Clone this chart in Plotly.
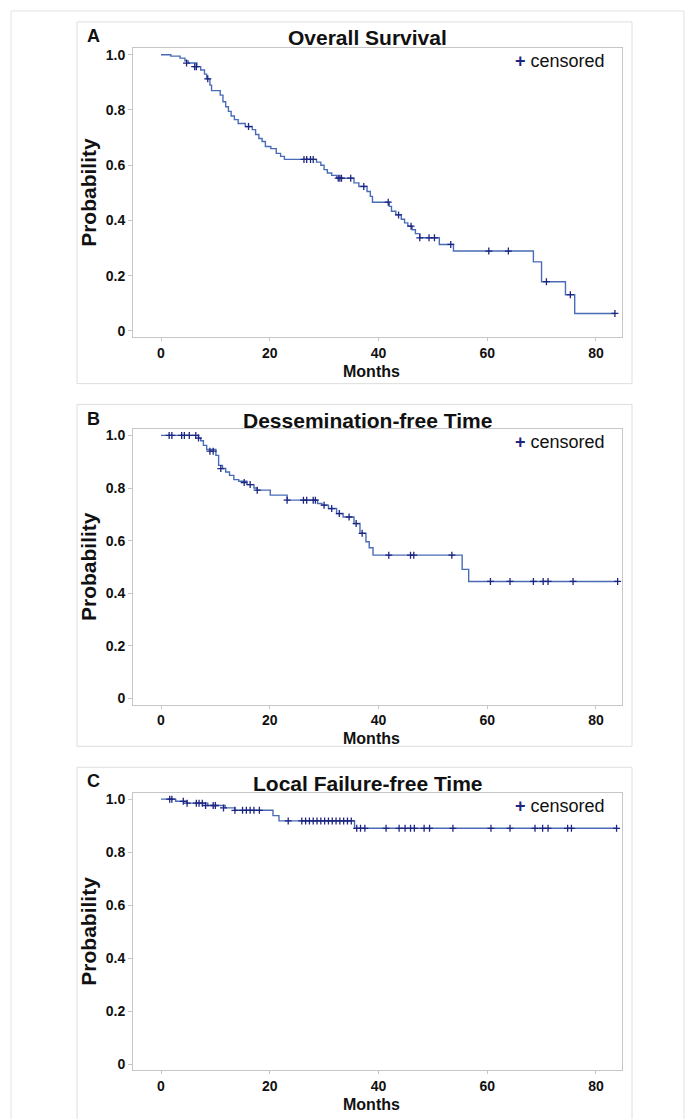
import plotly.graph_objects as go

W, H = 688, 1119

# ---------------- data ----------------
# Panel A: Overall Survival (step times, survival after step)
os_times = [0, 1.8, 3.5, 4.4, 5.0, 6.6, 7.3, 8.0, 8.4, 9.0, 9.3, 10.9, 11.4, 11.9, 12.4, 12.9,
            13.5, 14.2, 15.5, 16.8, 17.4, 18.0, 18.6, 19.2, 20.2, 21.2, 22.0, 22.7, 28.6, 29.4,
            30.0, 30.6, 31.4, 32.3, 35.5, 36.4, 37.9, 38.5, 38.9, 42.0, 42.4, 43.2, 44.2, 44.8,
            45.4, 46.2, 46.8, 47.6, 51.2, 53.8, 68.5, 70.0, 74.4, 76.1, 83.5]
os_surv = [1.0, 0.995, 0.988, 0.978, 0.97, 0.957, 0.945, 0.93, 0.913, 0.89, 0.87, 0.854, 0.83,
           0.812, 0.795, 0.778, 0.765, 0.751, 0.74, 0.729, 0.711, 0.697, 0.686, 0.668, 0.66,
           0.643, 0.632, 0.621, 0.611, 0.600, 0.584, 0.572, 0.563, 0.553, 0.536, 0.523, 0.505,
           0.487, 0.466, 0.451, 0.433, 0.42, 0.404, 0.391, 0.379, 0.366, 0.352, 0.337, 0.313,
           0.289, 0.25, 0.178, 0.131, 0.063, 0.063]
os_cens_t = [4.7, 6.2, 6.5, 8.6, 16.1, 26.3, 26.8, 27.5, 28.0, 32.6, 32.9, 33.2, 34.9, 37.3,
             41.8, 43.7, 46.0, 47.6, 49.3, 50.3, 53.3, 60.3, 63.9, 70.9, 75.3, 83.5]
os_cens_s = [0.97, 0.957, 0.957, 0.913, 0.74, 0.621, 0.621, 0.621, 0.621, 0.553, 0.553, 0.553,
             0.553, 0.523, 0.466, 0.42, 0.379, 0.337, 0.337, 0.337, 0.313, 0.289, 0.289, 0.178,
             0.131, 0.063]

# Panel B: Dessemination-free Time
df_times = [0, 6.9, 7.3, 7.8, 8.4, 10.1, 10.6, 11.3, 11.9, 12.6, 13.4, 14.3, 15.8, 17.1, 17.7,
            20.1, 23.2, 28.8, 29.6, 30.8, 32.3, 33.5, 35.5, 36.6, 37.7, 38.3, 39.0, 55.4, 56.6, 84.0]
df_surv = [1.0, 0.99, 0.98, 0.962, 0.947, 0.924, 0.886, 0.874, 0.861, 0.848, 0.832, 0.826,
           0.813, 0.80, 0.792, 0.773, 0.754, 0.741, 0.735, 0.722, 0.703, 0.69, 0.665, 0.628,
           0.596, 0.573, 0.545, 0.491, 0.445, 0.445]
df_cens_t = [1.5, 2.0, 3.8, 4.3, 5.2, 6.4, 6.9, 9.0, 9.6, 11.0, 15.3, 16.4, 17.7, 23.2, 26.2,
             26.8, 28.0, 28.4, 30.0, 31.4, 32.8, 34.6, 35.9, 37.0, 41.9, 45.9, 46.5, 53.5, 60.6,
             64.2, 68.5, 70.3, 71.2, 75.8, 84.0]
df_cens_s = [1.0, 1.0, 1.0, 1.0, 1.0, 1.0, 0.99, 0.94, 0.94, 0.874, 0.821, 0.813, 0.792, 0.754,
             0.754, 0.754, 0.754, 0.754, 0.735, 0.722, 0.703, 0.69, 0.665, 0.628, 0.545, 0.545,
             0.545, 0.545, 0.445, 0.445, 0.445, 0.445, 0.445, 0.445, 0.445]

# Panel C: Local Failure-free Time
lf_times = [0, 2.7, 4.8, 8.6, 11.8, 13.6, 20.6, 21.7, 35.6, 84.0]
lf_surv = [1.0, 0.992, 0.985, 0.976, 0.967, 0.958, 0.938, 0.918, 0.89, 0.89]
lf_cens_t = [1.6, 2.0, 4.1, 4.8, 6.5, 7.0, 7.6, 8.2, 9.6, 10.0, 11.5, 13.6, 15.0, 15.7, 16.4,
             17.1, 18.1, 23.4, 25.9, 26.6, 27.3, 28.0, 28.7, 29.4, 30.1, 30.8, 31.5, 32.2, 32.9,
             33.6, 34.3, 35.0, 36.0, 36.7, 37.5, 41.4, 43.8, 44.9, 45.9, 46.6, 48.4, 49.4, 53.7,
             60.7, 64.2, 68.8, 70.2, 71.2, 74.8, 75.5, 83.8]
lf_cens_s = [1.0, 1.0, 0.992, 0.985, 0.985, 0.985, 0.985, 0.976, 0.976, 0.976, 0.967, 0.958,
             0.958, 0.958, 0.958, 0.958, 0.958, 0.918, 0.918, 0.918, 0.918, 0.918, 0.918, 0.918,
             0.918, 0.918, 0.918, 0.918, 0.918, 0.918, 0.918, 0.918, 0.89, 0.89, 0.89, 0.89,
             0.89, 0.89, 0.89, 0.89, 0.89, 0.89, 0.89, 0.89, 0.89, 0.89, 0.89, 0.89, 0.89,
             0.89, 0.89]

panel_letters = ["A", "B", "C"]
panel_titles = ["Overall Survival", "Dessemination-free Time", "Local Failure-free Time"]
x_ticks = [0, 20, 40, 60, 80]
y_ticks = [0, 0.2, 0.4, 0.6, 0.8, 1.0]
y_ticktext = ["0", "0.2", "0.4", "0.6", "0.8", "1.0"]

# ---------------- layout geometry (pixels) ----------------
plot_x0, plot_x1 = 133, 622
plot_y = [(46.6, 336.4), (428.9, 705.1), (793.9, 1072.1)]   # top, bottom per panel
frame_y = [(20, 383), (404, 747), (768, 1130)]
frame_x0, frame_x1 = 77, 632

LINE = "#4a6cb8"
CENS = "#1c2580"
AXC = "#c6c6c6"
FONT = "Liberation Sans"


def px(x):
    return x / W


def py(y):
    return 1 - y / H


fig = go.Figure()
series = [(os_times, os_surv, os_cens_t, os_cens_s),
          (df_times, df_surv, df_cens_t, df_cens_s),
          (lf_times, lf_surv, lf_cens_t, lf_cens_s)]

annotations = []
shapes = []
for i, (t, s, ct, cs) in enumerate(series):
    xa = "x" if i == 0 else f"x{i+1}"
    ya = "y" if i == 0 else f"y{i+1}"
    fig.add_trace(go.Scatter(x=t, y=s, mode="lines", line=dict(color=LINE, width=1.4, shape="hv"),
                             xaxis=xa, yaxis=ya, showlegend=False, hoverinfo="skip"))
    fig.add_trace(go.Scatter(x=ct, y=cs, mode="markers",
                             marker=dict(symbol="cross-thin", size=5, line=dict(color=CENS, width=1.3)),
                             xaxis=xa, yaxis=ya, showlegend=False, hoverinfo="skip"))
    top, bot = plot_y[i]
    axis_common = dict(showline=True, mirror=True, linecolor=AXC, linewidth=1, ticks="outside",
                       tickcolor=AXC, showgrid=False, zeroline=False)
    fig.update_layout(**{
        ("xaxis" if i == 0 else f"xaxis{i+1}"): dict(
            domain=[px(plot_x0), px(plot_x1)], range=[-5.15, 84.8], tickvals=x_ticks,
            anchor=ya, ticklen=3, tickfont=dict(family=FONT, size=14, color="#111", weight="bold"),
            **axis_common),
        ("yaxis" if i == 0 else f"yaxis{i+1}"): dict(
            domain=[py(bot), py(top)], range=[-0.023, 1.023], tickvals=y_ticks,
            ticktext=y_ticktext, anchor=xa, ticklen=4,
            tickfont=dict(family=FONT, size=14, color="#111", weight="bold"), **axis_common),
    })
    ft, fb = frame_y[i]
    shapes.append(dict(type="rect", xref="paper", yref="paper", x0=px(frame_x0), x1=px(frame_x1),
                       y0=py(fb), y1=py(ft), line=dict(color="#dedede", width=1)))
    # panel letter
    annotations.append(dict(text=f"<b>{panel_letters[i]}</b>", x=px(85), y=py(ft + 14), xref="paper",
                            yref="paper", xanchor="left", yanchor="middle", showarrow=False,
                            font=dict(family=FONT, size=18, color="#111")))
    # title
    annotations.append(dict(text=f"<b>{panel_titles[i]}</b>", x=px(368), y=py(ft + 16), xref="paper",
                            yref="paper", xanchor="center", yanchor="middle", showarrow=False,
                            font=dict(family=FONT, size=21, color="#111")))
    # y title
    annotations.append(dict(text="<b>Probability</b>", x=px(89), y=py((top + bot) / 2), xref="paper",
                            yref="paper", xanchor="center", yanchor="middle", showarrow=False,
                            textangle=-90, font=dict(family=FONT, size=21, color="#111")))
    # x title
    annotations.append(dict(text="<b>Months</b>", x=px(371),
                            y=py(bot + 34), xref="paper", yref="paper", xanchor="center",
                            yanchor="middle", showarrow=False,
                            font=dict(family=FONT, size=16, color="#111")))
    # legend
    annotations.append(dict(text=f"<span style='color:{CENS}'><b>+</b></span> censored",
                            x=px(607), y=py(top + 13), xref="paper", yref="paper", xanchor="right",
                            yanchor="middle", showarrow=False,
                            font=dict(family=FONT, size=18, color="#111")))

# outer page border
shapes.append(dict(type="rect", xref="paper", yref="paper", x0=px(11), x1=px(684), y0=py(1130),
                   y1=py(9), line=dict(color="#e2e2e2", width=1)))

fig.update_layout(width=W, height=H, margin=dict(l=0, r=0, t=0, b=0), paper_bgcolor="white",
                  plot_bgcolor="white", annotations=annotations, shapes=shapes,
                  font=dict(family=FONT))

fig.write_html("out.html", config={"displayModeBar": False, "staticPlot": True})

# remove the default browser body margin so the figure sits at the page origin
with open("out.html", "r", encoding="utf-8") as f:
    html = f.read()
html = html.replace("<body>", '<body style="margin:0;padding:0;overflow:hidden">', 1)
with open("out.html", "w", encoding="utf-8") as f:
    f.write(html)
